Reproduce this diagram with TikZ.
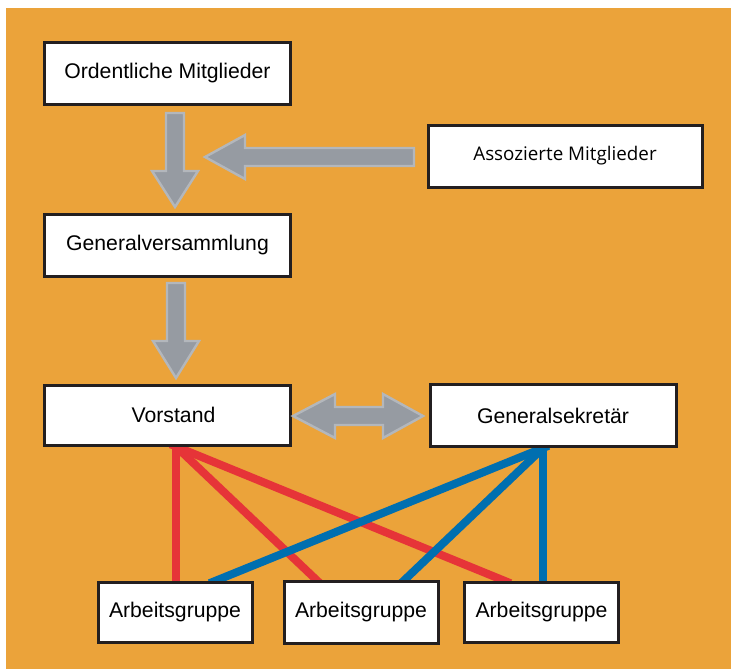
\documentclass[tikz,border=0pt]{standalone}
\usepackage{fontspec}
\setmainfont{Liberation Sans}
\newfontfamily\assozfont{Open Sans}
\usetikzlibrary{backgrounds}
\definecolor{bgorange}{HTML}{EBA33A}
\definecolor{linkred}{HTML}{E63438}
\definecolor{linkblue}{HTML}{006FB0}
\definecolor{arrowgray}{HTML}{969BA2}
\definecolor{arrowrim}{HTML}{B3B7BC}
\definecolor{boxrim}{HTML}{231F20}

\begin{document}
\begin{tikzpicture}[x=0.5pt,y=-0.5pt,line join=miter,
  orgbox/.style={draw=boxrim,line width=1.5pt,fill=white,inner sep=0pt,
    minimum height=31pt,font=\fontsize{10.6}{12}\selectfont},
  blockarrow/.style={fill=arrowgray,draw=arrowrim,line width=1.2pt},
  redlink/.style={linkred,line width=4pt,shorten <=-3pt,shorten >=-3pt},
  bluelink/.style={linkblue,line width=4pt,shorten <=-3pt,shorten >=-3pt}]
  \useasboundingbox (0,0) rectangle (731,669);

  \node[orgbox,minimum width=123pt] (ordent) at (167.5,73) {Ordentliche Mitglieder};
  \node[orgbox,minimum width=137pt,font=\assozfont\fontsize{9.4}{11}\selectfont] (assoz) at (565,156) {Assozierte Mitglieder};
  \node[orgbox,minimum width=123pt] (genver) at (167.5,245) {Generalversammlung};
  \node[orgbox,minimum width=123pt,minimum height=30pt] (vorstand) at (167.5,415) {\hspace*{6pt}Vorstand};
  \node[orgbox,minimum width=123pt] (gensek) at (553,415.5) {Generalsekretär};
  \node[orgbox,minimum width=77pt,minimum height=30pt] (ag1) at (175,612.5) {Arbeitsgruppe};
  \node[orgbox,minimum width=77pt] (ag2) at (361,612) {Arbeitsgruppe};
  \node[orgbox,minimum width=77pt,minimum height=30pt] (ag3) at (541.5,612.5) {Arbeitsgruppe};

  \begin{pgfonlayer}{background}
    \fill[bgorange] (6,8) rectangle (731,669);
    % Vorstand
    \draw[redlink] ([xshift=4.25pt]vorstand.south) -- ([xshift=0.5pt]ag1.north);
    \draw[redlink] ([xshift=4.25pt]vorstand.south) -- ([xshift=-22.5pt]ag2.north);
    \draw[redlink] ([xshift=4.25pt]vorstand.south) -- ([xshift=-18.25pt]ag3.north);
    % Generalsekretaer
    \draw[bluelink] ([xshift=-5pt]gensek.south) -- ([xshift=20pt]ag1.north);
    \draw[bluelink] ([xshift=-5pt]gensek.south) -- ([xshift=22pt]ag2.north);
    \draw[bluelink] ([xshift=-5pt]gensek.south) -- ([xshift=0.75pt]ag3.north);
  \end{pgfonlayer}

  % block arrows
  \draw[blockarrow] (166,113) -- (184,113) -- (184,171) -- (198,171) -- (175,207)
    -- (152,171) -- (166,171) -- cycle;
  \draw[blockarrow] (167,283) -- (185,283) -- (185,341) -- (199,341) -- (176,378)
    -- (153,341) -- (167,341) -- cycle;
  \draw[blockarrow] (414,148) -- (245,148) -- (245,135) -- (205,157) -- (245,179)
    -- (245,166) -- (414,166) -- cycle;
  \draw[blockarrow] (293,416) -- (335,394) -- (335,407) -- (383,407) -- (383,394)
    -- (423,416) -- (383,438) -- (383,425) -- (335,425) -- (335,438) -- cycle;
\end{tikzpicture}
\end{document}
